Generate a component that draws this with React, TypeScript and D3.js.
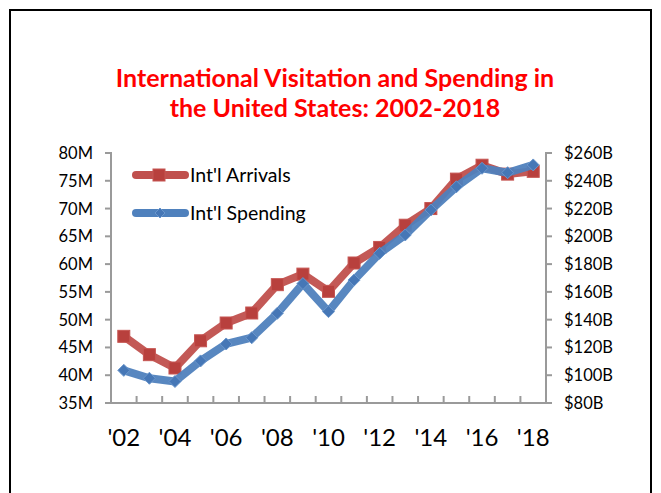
import React from "react";
import * as d3 from "d3";

const years = [2002, 2003, 2004, 2005, 2006, 2007, 2008, 2009, 2010, 2011, 2012, 2013, 2014, 2015, 2016, 2017, 2018];
const arrivals = [47.0, 43.7, 41.3, 46.2, 49.4, 51.2, 56.3, 58.2, 55.1, 60.2, 63.0, 67.0, 70.0, 75.3, 77.8, 76.2, 76.7];
const spending = [103.5, 97.8, 95.5, 110.3, 122.5, 127.0, 144.6, 166.0, 145.8, 168.5, 187.8, 201.0, 219.0, 235.7, 249.0, 245.8, 251.4];
const leftTicks = [35, 40, 45, 50, 55, 60, 65, 70, 75, 80];
const rightTicks = [80, 100, 120, 140, 160, 180, 200, 220, 240, 260];
const xLabelYears = [2002, 2004, 2006, 2008, 2010, 2012, 2014, 2016, 2018];
const titleLines = ["International Visitation and Spending in", "the United States: 2002-2018"];
const seriesNames = ["Int'l Arrivals", "Int'l Spending"];

const FONT = "Lato, 'Open Sans', sans-serif";
const RED = "#C0504D";
const BLUE = "#4F81BD";

export default function App() {
  const left = 111, right = 546, top = 153, bottom = 403;
  const x = d3.scaleBand<number>().domain(years).range([left, right]);
  const yL = d3.scaleLinear().domain([35, 80]).range([bottom, top]);
  const yR = d3.scaleLinear().domain([80, 260]).range([bottom, top]);
  const cx = (yr: number) => (x(yr) as number) + x.bandwidth() / 2;

  const lineL = d3.line<number>().x((_, i) => cx(years[i])).y((d) => yL(d));
  const lineR = d3.line<number>().x((_, i) => cx(years[i])).y((d) => yR(d));

  const boundaries = years.slice(1).map((yr) => x(yr) as number);

  return (
    <svg width={661} height={493} style={{ position: "absolute", left: 0, top: 0, background: "#fff" }}>
      <rect x={0} y={0} width={661} height={493} fill="#fff" />
      <rect x={10} y={10} width={641} height={500} fill="none" stroke="#000" strokeWidth={2} />
      {titleLines.map((t, i) => (
        <text key={i} x={335} y={87 + i * 30} textAnchor="middle" fill="#FF0000" fontFamily={FONT} fontWeight="bold" fontSize={25}>
          {t}
        </text>
      ))}
      {/* axes */}
      <g stroke="#9a9a9a" strokeWidth={2} fill="none">
        <line x1={left} y1={top - 1} x2={left} y2={bottom} />
        <line x1={right} y1={top - 1} x2={right} y2={bottom} />
        <line x1={left - 6} y1={bottom} x2={right + 6} y2={bottom} />
        {leftTicks.map((t) => (
          <line key={"l" + t} x1={left - 6} x2={left} y1={yL(t)} y2={yL(t)} />
        ))}
        {rightTicks.map((t) => (
          <line key={"r" + t} x1={right} x2={right + 6} y1={yR(t)} y2={yR(t)} />
        ))}
        {boundaries.map((b, i) => (
          <line key={"b" + i} x1={b} x2={b} y1={bottom} y2={bottom - 7} />
        ))}
      </g>
      {leftTicks.map((t) => (
        <text key={"lt" + t} x={93} y={yL(t) + 6} textAnchor="end" fontFamily={FONT} fontSize={16.5} fill="#000">
          {t}M
        </text>
      ))}
      {rightTicks.map((t) => (
        <text key={"rt" + t} x={564} y={yR(t) + 6} textAnchor="start" fontFamily={FONT} fontSize={16.5} fill="#000">
          ${t}B
        </text>
      ))}
      {xLabelYears.map((yr) => (
        <text key={"x" + yr} x={cx(yr)} y={446} textAnchor="middle" fontFamily={FONT} fontSize={24} fill="#000">
          {"'" + String(yr).slice(2)}
        </text>
      ))}
      {/* series */}
      <path d={lineL(arrivals) || ""} fill="none" stroke={RED} strokeWidth={8} strokeLinejoin="round" strokeLinecap="round" opacity={0.95} />
      {arrivals.map((v, i) => (
        <rect key={"m" + i} x={cx(years[i]) - 6} y={yL(v) - 6} width={12} height={12} fill="#B8403D" stroke="#C65552" strokeWidth={1} />
      ))}
      <path d={lineR(spending) || ""} fill="none" stroke={BLUE} strokeWidth={8} strokeLinejoin="round" strokeLinecap="round" opacity={0.95} />
      {spending.map((v, i) => {
        const px = cx(years[i]), py = yR(v);
        return (
          <path key={"s" + i} d={`M${px},${py - 6}L${px + 6},${py}L${px},${py + 6}L${px - 6},${py}Z`} fill="#4677B6" stroke="#6A96CC" strokeWidth={1} />
        );
      })}
      {/* legend */}
      <g>
        <line x1={136} x2={185} y1={175} y2={175} stroke={RED} strokeWidth={8} strokeLinecap="round" />
        <rect x={153} y={169} width={12} height={12} fill="#B8403D" stroke="#C65552" />
        <text x={190} y={182} fontFamily={FONT} fontSize={19.5} fill="#000">{seriesNames[0]}</text>
        <line x1={136} x2={185} y1={213} y2={213} stroke={BLUE} strokeWidth={8} strokeLinecap="round" />
        <path d="M160,208L165,213L160,218L155,213Z" fill="#4677B6" stroke="#6A96CC" />
        <text x={190} y={220} fontFamily={FONT} fontSize={19.5} fill="#000">{seriesNames[1]}</text>
      </g>
    </svg>
  );
}
